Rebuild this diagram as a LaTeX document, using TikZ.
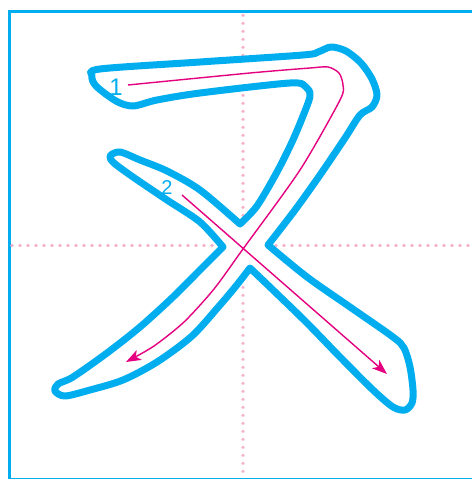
\documentclass[tikz,border=0pt]{standalone}
\usepackage{fontspec}
\setmainfont{Liberation Sans}
\usetikzlibrary{arrows.meta}
\definecolor{cyanb}{HTML}{00AEEF}
\definecolor{mag}{HTML}{E5007F}
\definecolor{pinkdot}{HTML}{F5B3CF}
\begin{document}
\begin{tikzpicture}[x=1pt,y=-1pt,
  frame/.style={draw=cyanb,line width=3pt},
  dotmark/.style={fill=pinkdot},
  outline/.style={draw=cyanb,fill=white,line width=7pt,line join=round},
  trace/.style={draw=mag,line width=1.4pt,-{Stealth[length=15pt,width=11pt,inset=4pt]}},
  num/.style={text=cyanb,inner sep=0pt}]
\useasboundingbox (0,0) rectangle (471,479);
\fill[white] (0,0) rectangle (471,479);
% frame
\draw[frame] (9,11.5) rectangle (476,479.5);
% guide lines (dotted)
\foreach \yy in {15.3,23.3,...,478} {\fill[dotmark] (243,\yy) circle (1.8);}
\foreach \xx in {12,20,...,471} {\fill[dotmark] (\xx,245.5) circle (1.8);}
% character outline
\draw[outline]
  plot[smooth,tension=0.5] coordinates {(240,224) (257,206) (277,172) (292,142) (303,116) (310,96) (306,87) (290,83) (200,93) (157,100) (133,106) (116,101) (96,86) (92,76) (100,69) (200,62) (303,55) (318,52) (331,47) (346,51) (361,63) (372,79) (377,95) (372,107) (360,115) (345,138) (320,175) (295,210) (268,245)}
  -- plot[smooth,tension=0.5] coordinates {(268,245) (307,277) (350,307) (393,337) (404,348) (410,367) (413,390) (412,403) (405,410) (393,407) (373,390) (340,357) (307,323) (273,290) (250,268)}
  -- plot[smooth,tension=0.5] coordinates {(250,268) (236,286) (220,305) (192,336) (157,362) (123,380) (90,390) (65,396) (55,391) (58,384) (73,377) (107,353) (140,327) (173,297) (200,270) (223,247)}
  -- plot[smooth,tension=0.5] coordinates {(223,247) (200,222) (167,200) (133,177) (114,163) (110,156) (120,152) (140,160) (167,171) (200,190) (240,224)}
  -- cycle;
% traces
\draw[trace] plot[smooth,tension=0.45] coordinates {(128,85) (250,73) (310,68) (328,67) (339,73) (343,85) (340,100) (300,170) (243,249) (214,289) (184,322) (154,346) (126,362)};
\coordinate (s2a) at (182,195);
\coordinate (s2b) at (387,374);
\draw[trace] (s2a) -- (s2b);
% numbers
\node[num,font=\fontsize{24}{24}\selectfont] (n1) at (116,87) {1};
\node[num,font=\fontsize{20}{20}\selectfont] (n2) at (167,188) {2};
\end{tikzpicture}
\end{document}
